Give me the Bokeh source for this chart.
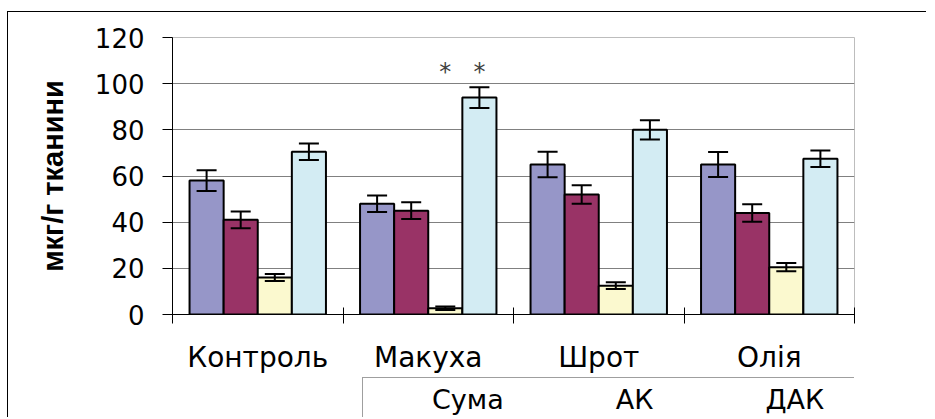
from bokeh.plotting import figure
from bokeh.layouts import column
from bokeh.models import (Range1d, FixedTicker, Whisker, TeeHead, ColumnDataSource,
                          Legend, LegendItem)
from bokeh.core.properties import value
from bokeh.embed import file_html
from bokeh.resources import INLINE

categories = ["Контроль", "Макуха", "Шрот", "Олія"]
series_names = ["Сума", "АК", "ДАК", "%АК"]
suma = [58, 48, 65, 65]
suma_err = [4.5, 3.6, 5.5, 5.4]
ak = [41, 45, 52, 44]
ak_err = [3.6, 3.6, 4.0, 3.8]
dak = [16, 2.7, 12.5, 20.5]
dak_err = [1.5, 0.8, 1.5, 1.8]
pak = [70.5, 94, 80, 67.5]
pak_err = [3.6, 4.5, 4.2, 3.6]
y_ticks = [0, 20, 40, 60, 80, 100, 120]
sig_groups = ["Макуха", "Макуха"]
sig_series = ["ДАК", "%АК"]
sig_level = [105, 105]

colors = ["#9696C8", "#993366", "#FBF9CF", "#D3ECF3"]
offsets = [-0.3, -0.1, 0.1, 0.3]
bar_w = 0.2
FONT = "DejaVu Sans"

p = figure(width=919, height=366, output_backend="svg", toolbar_location=None,
           x_range=Range1d(0, len(categories)), y_range=Range1d(0, 120),
           min_border_left=164, min_border_right=73, min_border_top=25,
           min_border_bottom=64)
p.styles = {"border-top": "1px solid #000", "border-left": "1px solid #000",
            "margin-top": "11px", "margin-left": "7px"}
p.background_fill_color = "white"
p.border_fill_color = "white"
p.outline_line_color = "#BDBDBD"
p.outline_line_width = 1

# x axis
xa = p.xaxis[0]
centers = [i + 0.5 for i in range(len(categories))]
xa.ticker = FixedTicker(ticks=centers, minor_ticks=list(range(len(categories) + 1)))
xa.major_label_overrides = {c: name for c, name in zip(centers, categories)}
xa.major_tick_in = 0
xa.major_tick_out = 0
xa.minor_tick_in = 7
xa.minor_tick_out = 9
xa.minor_tick_line_color = "black"
xa.axis_line_color = "black"
xa.major_label_text_font = FONT
xa.major_label_text_font_size = "28px"
xa.major_label_text_color = "black"
xa.major_label_standoff = 17
p.xgrid.visible = False

# y axis
ya = p.yaxis[0]
ya.ticker = FixedTicker(ticks=y_ticks, minor_ticks=[])
ya.major_tick_in = 0
ya.major_tick_out = 10
ya.major_tick_line_color = "black"
ya.axis_line_color = "black"
ya.major_label_text_font = FONT
ya.major_label_text_font_size = "26px"
ya.major_label_text_color = "black"
ya.major_label_standoff = 18
ya.axis_label = "мкг/г тканини"
ya.axis_label_text_font = "Liberation Sans"
ya.axis_label_text_font_style = "bold"
ya.axis_label_text_font_size = "29px"
ya.axis_label_text_color = "black"
ya.axis_label_standoff = 23
p.ygrid.grid_line_color = "#808080"
p.ygrid.grid_line_width = 1

series = [(suma, suma_err), (ak, ak_err), (dak, dak_err), (pak, pak_err)]
for k, (vals, errs) in enumerate(series):
    xs = [i + 0.5 + offsets[k] for i in range(len(categories))]
    src = ColumnDataSource(dict(x=xs, top=vals,
                                upper=[v + e for v, e in zip(vals, errs)],
                                lower=[v - e for v, e in zip(vals, errs)]))
    p.vbar(x="x", top="top", bottom=0, width=bar_w, source=src,
           fill_color=colors[k], line_color="black", line_width=2)
    w = Whisker(source=src, base="x", upper="upper", lower="lower",
                line_color="black", line_width=2, level="annotation",
                upper_head=TeeHead(size=20, line_width=2, line_color="black"),
                lower_head=TeeHead(size=20, line_width=2, line_color="black"))
    p.add_layout(w)

# significance marks
sx = [categories.index(g) + 0.5 + offsets[series_names.index(s)]
      for g, s in zip(sig_groups, sig_series)]
p.text(x=sx, y=sig_level, text=["*"] * len(sx), text_align="center",
       text_baseline="middle", text_font=value(FONT), text_font_size="24px",
       text_color="#404040")

# legend strip below the chart (its own small figure)
leg_fig = figure(width=919, height=40, output_backend="svg", toolbar_location=None,
                 x_range=Range1d(0, 1), y_range=Range1d(0, 1),
                 x_axis_type=None, y_axis_type=None,
                 min_border_left=0, min_border_right=0, min_border_top=0,
                 min_border_bottom=0)
leg_fig.styles = {"border-left": "1px solid #000", "margin-left": "7px"}
leg_fig.outline_line_color = None
leg_fig.background_fill_color = "white"
leg_fig.border_fill_color = "white"

leg_renderers = [leg_fig.vbar(x=[], top=[], width=0.1, fill_color=c,
                              line_color="black", line_width=2) for c in colors]
legend = Legend(items=[LegendItem(label=n, renderers=[r])
                       for n, r in zip(series_names, leg_renderers)],
                orientation="horizontal", location=(190, -5),
                padding=6, margin=0, spacing=80,
                glyph_width=20, glyph_height=19, label_standoff=12,
                label_text_font=FONT, label_text_font_size="27px",
                label_text_color="black",
                border_line_color="#404040", border_line_width=1,
                background_fill_color="white",
                title=" ", title_location="left", title_text_font_size="1px",
                title_standoff=30)
leg_fig.add_layout(legend)

layout = column(p, leg_fig, spacing=0)
open("out.html", "w").write(file_html(layout, INLINE))
